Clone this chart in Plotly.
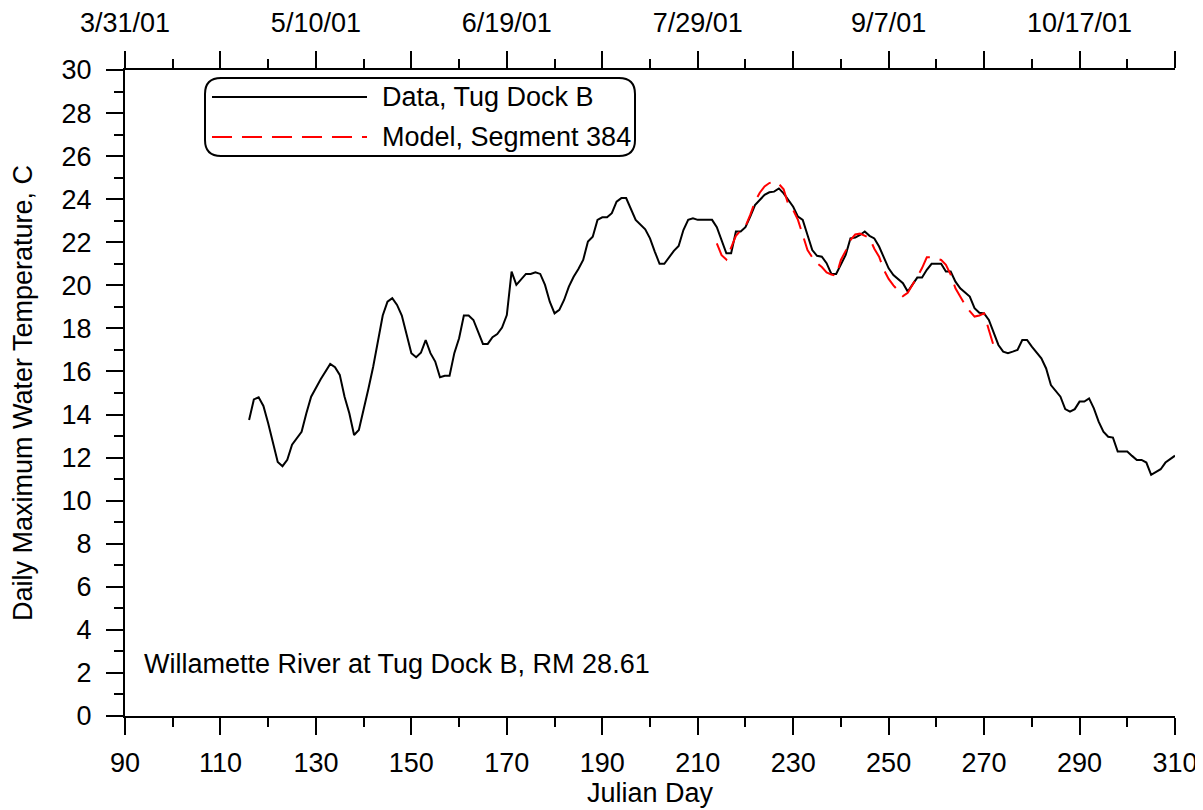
import plotly.graph_objects as go

# ---- Data ----
data_day = [116,117,118,119,120,121,122,123,124,125,127,128,129,131,132,133,134,135,136,137,138,139,
            141,142,144,145,146,147,148,149,150,151,152,153,154,155,156,157,158,159,160,161,162,163,164,
            165,166,167,168,169,170,171,172,173,174,175,176,177,178,179,180,181,182,183,184,185,186,187,
            188,189,190,191,192,193,194,195,196,197,199,200,201,202,203,204,205,206,207,208,209,210,213,
            214,215,216,217,218,219,220,221,222,224,225,226,227,228,229,230,231,232,233,234,235,236,237,
            238,239,240,241,242,243,244,245,246,247,248,249,250,251,253,254,255,256,257,258,259,261,262,
            263,264,265,267,268,269,270,271,272,273,274,275,276,277,278,279,280,282,283,284,286,287,288,
            289,290,291,292,293,294,295,296,297,298,299,300,301,302,303,304,305,307,308,310]
data_temp = [13.75,14.7,14.8,14.4,13.6,12.74,11.8,11.6,11.9,12.6,13.2,14.06,14.83,15.64,15.99,16.35,16.2,15.84,14.83,14.06,13.05,13.28,
             15.2,16.22,18.6,19.24,19.4,19.09,18.6,17.78,16.85,16.66,16.87,17.46,16.85,16.46,15.73,15.8,15.8,16.85,17.54,18.6,18.6,18.39,17.8,
             17.28,17.28,17.59,17.74,18.04,18.62,20.64,20.02,20.28,20.53,20.53,20.61,20.53,20.02,19.24,18.7,18.86,19.32,19.94,20.4,20.76,21.18,22.03,
             22.26,23.04,23.16,23.16,23.35,23.89,24.05,24.05,23.53,23.04,22.6,22.18,21.57,21.0,21.0,21.3,21.6,21.83,22.57,23.04,23.11,23.04,23.04,
             22.7,22.1,21.49,21.49,22.5,22.5,22.7,23.19,23.73,24.2,24.32,24.35,24.5,24.27,23.97,23.65,23.19,23.04,22.34,21.64,21.37,21.33,21.03,
             20.53,20.53,20.95,21.41,22.18,22.22,22.34,22.5,22.3,22.18,21.8,21.33,20.79,20.48,20.1,19.71,20.02,20.36,20.36,20.72,21.0,21.0,20.64,
             20.64,20.17,19.86,19.48,18.94,18.73,18.7,18.39,17.78,17.23,16.92,16.85,16.92,17.0,17.46,17.46,17.15,16.61,16.14,15.37,14.83,14.25,14.13,
             14.25,14.6,14.6,14.75,14.29,13.67,13.2,12.97,12.93,12.28,12.28,12.28,12.08,11.89,11.89,11.77,11.2,11.46,11.77,12.09]

model_day = list(range(214, 273))
model_temp = [21.95,21.4,21.2,21.8,22.3,22.54,22.73,23.27,23.89,24.3,24.59,24.75,24.82,24.71,24.46,23.73,23.5,23.04,22.3,21.64,
              21.3,21.03,20.85,20.6,20.5,20.44,21.18,21.6,22.1,22.36,22.4,22.3,22.2,21.7,21.33,20.72,20.3,20.0,19.75,19.5,
              19.65,20.0,20.4,20.8,21.3,21.3,21.25,21.18,20.95,20.5,19.86,19.45,19.1,18.8,18.55,18.6,18.7,17.93,17.19]

bottom_ticks = list(range(90, 311, 20))
top_tick_vals = list(range(90, 311, 20))
top_tick_text = ["3/31/01", "", "5/10/01", "", "6/19/01", "", "7/29/01", "", "9/7/01", "", "10/17/01", ""]

legend_labels = ["Data, Tug Dock B", "Model, Segment 384"]
note_text = "Willamette River at Tug Dock B, RM 28.61"

FONT = "Liberation Sans, Arial, sans-serif"
FS = 27
W, H = 1203, 810
OFF = 8  # page body margin
# target plot region in page pixels
PL, PR, PT, PB = 125, 1175, 70, 716
ML, MT = PL - OFF, PT - OFF
MR = W - (PR - OFF)
MB = H - (PB - OFF)
PW, PH = PR - PL, PB - PT

def px2paper(px, py):
    return (px - PL) / PW, (PB - py) / PH

fig = go.Figure()
fig.add_trace(go.Scatter(x=data_day, y=data_temp, mode="lines", name=legend_labels[0],
                         line=dict(color="black", width=2), showlegend=False))
fig.add_trace(go.Scatter(x=model_day, y=model_temp, mode="lines", name=legend_labels[1],
                         line=dict(color="#ff0000", width=2, dash="20px,10px"), showlegend=False))
fig.add_trace(go.Scatter(x=[90, 310], y=[None, None], xaxis="x2", showlegend=False, hoverinfo="skip"))

axis_common = dict(showgrid=False, zeroline=False, showline=True, linecolor="black", linewidth=2,
                   ticks="outside", tickcolor="black", tickwidth=2, ticklen=17,
                   tickfont=dict(family=FONT, size=FS, color="black"))
minor_common = dict(ticks="outside", ticklen=9, tickwidth=2, tickcolor="black")

fig.update_layout(
    width=W, height=H,
    margin=dict(l=ML, r=MR, t=MT, b=MB, autoexpand=False),
    paper_bgcolor="white", plot_bgcolor="white",
    font=dict(family=FONT, size=FS, color="black"),
    xaxis=dict(range=[90, 310], tickvals=bottom_ticks, ticklabelstandoff=5,
               minor=dict(dtick=10, tick0=90, **minor_common),
               title=dict(text="Julian Day", font=dict(family=FONT, size=FS), standoff=0),
               **axis_common),
    xaxis2=dict(range=[90, 310], overlaying="x", side="top", tickvals=top_tick_vals, ticktext=top_tick_text,
                ticklabelstandoff=8,
                minor=dict(dtick=10, tick0=90, **minor_common),
                **axis_common),
    yaxis=dict(range=[0, 30], dtick=2, tick0=0, ticklabelstandoff=9,
               minor=dict(dtick=1, tick0=0, **minor_common),
               title=dict(text="Daily Maximum Water Temperature, C", font=dict(family=FONT, size=FS), standoff=22),
               **axis_common),
)

# manual rounded legend box
x0, y0 = px2paper(205, 156)
x1, y1 = px2paper(635, 78)
rx, ry = 16 / PW, 16 / PH
path = (f"M {x0+rx},{y0} L {x1-rx},{y0} Q {x1},{y0} {x1},{y0+ry} L {x1},{y1-ry} Q {x1},{y1} {x1-rx},{y1} "
        f"L {x0+rx},{y1} Q {x0},{y1} {x0},{y1-ry} L {x0},{y0+ry} Q {x0},{y0} {x0+rx},{y0} Z")
fig.add_shape(type="path", path=path, xref="paper", yref="paper", line=dict(color="black", width=2))

lx0, ly = px2paper(212, 97)
lx1, _ = px2paper(367, 97)
fig.add_shape(type="line", xref="paper", yref="paper", x0=lx0, x1=lx1, y0=ly, y1=ly,
              line=dict(color="black", width=2))
_, ly2 = px2paper(212, 137)
fig.add_shape(type="line", xref="paper", yref="paper", x0=lx0, x1=lx1, y0=ly2, y1=ly2,
              line=dict(color="#ff0000", width=2, dash="20px,10px"))
tx, _ = px2paper(380, 97)
fig.add_annotation(x=tx, y=ly, xref="paper", yref="paper", text=legend_labels[0], showarrow=False,
                   xanchor="left", yanchor="middle", font=dict(family=FONT, size=FS, color="black"))
fig.add_annotation(x=tx, y=ly2, xref="paper", yref="paper", text=legend_labels[1], showarrow=False,
                   xanchor="left", yanchor="middle", font=dict(family=FONT, size=FS, color="black"))

nx, ny = px2paper(142, 664)
fig.add_annotation(x=nx, y=ny, xref="paper", yref="paper", text=note_text, showarrow=False,
                   xanchor="left", yanchor="middle", font=dict(family=FONT, size=FS, color="black"))

fig.write_html("out.html")
